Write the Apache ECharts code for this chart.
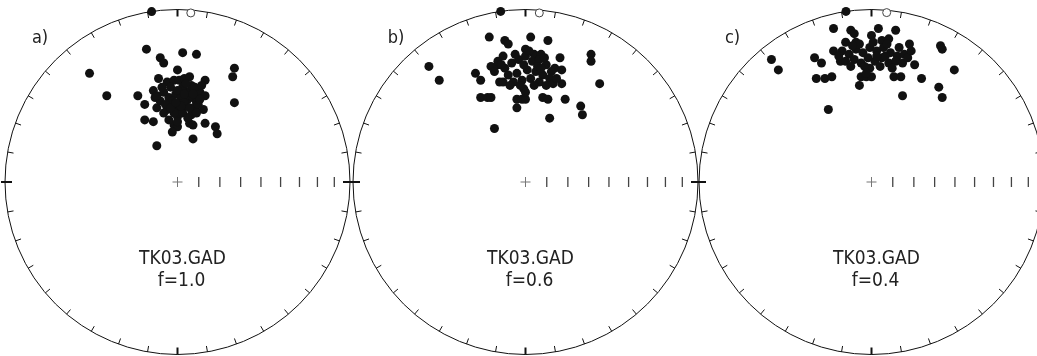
<!DOCTYPE html>
<html>
<head>
<meta charset="utf-8">
<script src="https://cdn.jsdelivr.net/npm/echarts@6/dist/echarts.min.js"></script>
<style>
  html, body { margin: 0; background: #fff; }
  #chart { width: 1037px; height: 356px; }
</style>
</head>
<body>
<div id="chart"></div>
<script>
// panel captions
const panelLabels = ['a)', 'b)', 'c)'];
const modelName = 'TK03.GAD';
const fLabels = ['f=1.0', 'f=0.6', 'f=0.4'];

// dip ticks along the east radius (equal-area net)
const dipTicks = [80, 70, 60, 50, 40, 30, 20, 10];

// site directions, projected x/y in the unit circle
const sitesA = [
  [-0.18, 0.77], [-0.10, 0.72], [-0.08, 0.69], [0.03, 0.75], [0.11, 0.74], [-0.51, 0.63], [-0.41, 0.50],
  [0.33, 0.66], [0.32, 0.61], [0.33, 0.46], [0.00, 0.65], [-0.11, 0.60], [-0.06, 0.58], [-0.02, 0.59],
  [0.01, 0.59], [0.04, 0.60], [0.07, 0.61], [0.16, 0.59], [-0.23, 0.50], [-0.14, 0.53], [-0.13, 0.49],
  [-0.08, 0.52], [-0.05, 0.49], [-0.01, 0.51], [0.02, 0.49], [0.06, 0.52], [0.06, 0.48], [0.09, 0.49],
  [0.13, 0.52], [0.16, 0.50], [-0.19, 0.45], [-0.12, 0.43], [-0.06, 0.42], [-0.02, 0.44], [0.01, 0.42],
  [0.05, 0.44], [0.10, 0.43], [0.15, 0.42], [-0.19, 0.36], [-0.14, 0.35], [0.00, 0.38], [-0.02, 0.33],
  [0.00, 0.32], [0.07, 0.34], [0.09, 0.33], [0.16, 0.34], [0.22, 0.32], [0.23, 0.28], [-0.03, 0.29],
  [0.09, 0.25], [-0.12, 0.21], [-0.04, 0.55], [0.03, 0.55], [0.08, 0.56], [-0.10, 0.47], [-0.03, 0.47],
  [0.04, 0.46], [0.11, 0.46], [-0.08, 0.40], [0.03, 0.40], [0.08, 0.39], [0.12, 0.45], [-0.05, 0.36],
  [0.06, 0.37], [0.00, 0.53], [-0.07, 0.45], [0.10, 0.55], [0.13, 0.48], [-0.12, 0.50], [0.02, 0.44],
  [0.07, 0.43], [-0.02, 0.40], [0.04, 0.51], [-0.04, 0.43], [0.11, 0.40], [0.14, 0.56], [-0.09, 0.55],
  [0.05, 0.57], [-0.01, 0.46], [0.09, 0.51], [0.00, 0.35]
];
const sitesB = [
  [-0.21, 0.84], [-0.12, 0.82], [-0.10, 0.80], [0.03, 0.84], [0.13, 0.82], [-0.56, 0.67], [-0.50, 0.59],
  [0.38, 0.74], [0.38, 0.70], [0.43, 0.57], [-0.29, 0.63], [-0.26, 0.59], [-0.15, 0.58], [-0.13, 0.73],
  [0.00, 0.77], [0.05, 0.74], [0.09, 0.74], [0.20, 0.72], [0.17, 0.66], [0.21, 0.65], [0.21, 0.57],
  [-0.20, 0.67], [-0.16, 0.68], [-0.26, 0.49], [-0.22, 0.49], [-0.20, 0.49], [-0.05, 0.48], [-0.02, 0.48],
  [0.00, 0.48], [-0.05, 0.43], [0.10, 0.49], [0.13, 0.48], [0.23, 0.48], [0.32, 0.44], [0.33, 0.39],
  [0.14, 0.37], [-0.18, 0.31], [-0.01, 0.54], [0.00, 0.52], [-0.16, 0.70], [-0.12, 0.66], [-0.08, 0.69],
  [-0.04, 0.71], [0.00, 0.73], [0.04, 0.70], [0.08, 0.71], [0.12, 0.68], [0.15, 0.64], [-0.18, 0.64],
  [-0.10, 0.62], [-0.05, 0.63], [0.01, 0.65], [0.06, 0.64], [0.10, 0.62], [0.14, 0.60], [-0.13, 0.58],
  [-0.07, 0.58], [-0.02, 0.59], [0.03, 0.60], [0.08, 0.58], [0.12, 0.56], [-0.09, 0.56], [0.05, 0.56],
  [-0.01, 0.68], [0.02, 0.76], [0.07, 0.67], [-0.14, 0.68], [0.16, 0.57], [0.11, 0.72], [-0.03, 0.56],
  [0.18, 0.60], [0.09, 0.66], [-0.06, 0.74]
];
const sitesC = [
  [-0.22, 0.89], [-0.12, 0.88], [-0.10, 0.86], [0.04, 0.89], [0.14, 0.88], [-0.58, 0.71], [-0.54, 0.65],
  [-0.33, 0.72], [-0.29, 0.69], [-0.32, 0.60], [-0.27, 0.60], [-0.23, 0.61], [-0.07, 0.56], [-0.06, 0.61],
  [-0.03, 0.61], [0.00, 0.61], [-0.01, 0.66], [0.13, 0.61], [0.17, 0.61], [0.29, 0.60], [0.39, 0.55],
  [0.41, 0.49], [0.18, 0.50], [-0.25, 0.42], [0.40, 0.79], [0.41, 0.77], [0.48, 0.65], [0.22, 0.80],
  [0.25, 0.68], [-0.15, 0.81], [-0.09, 0.81], [-0.22, 0.76], [-0.18, 0.70], [0.00, 0.85], [0.06, 0.82],
  [0.10, 0.83], [-0.17, 0.76], [-0.13, 0.74], [-0.09, 0.77], [-0.05, 0.75], [-0.01, 0.78], [0.03, 0.76],
  [0.07, 0.78], [0.11, 0.75], [0.15, 0.73], [0.19, 0.74], [-0.15, 0.70], [-0.10, 0.71], [-0.06, 0.69],
  [-0.02, 0.72], [0.02, 0.70], [0.06, 0.72], [0.10, 0.69], [0.14, 0.70], [0.18, 0.69], [-0.12, 0.67],
  [-0.04, 0.67], [0.05, 0.67], [0.12, 0.66], [0.21, 0.72], [-0.07, 0.80], [0.01, 0.81], [0.08, 0.73],
  [-0.11, 0.79], [0.16, 0.78], [0.03, 0.73], [-0.19, 0.73], [0.09, 0.80], [0.23, 0.76], [-0.03, 0.63]
];
const sitesAll = [sitesA, sitesB, sitesC];

// markers on the rim: filled and open
const solidMarks = [[-0.150, 0.988], [-0.144, 0.989], [-0.148, 0.989]];
const openMarks = [[0.077, 0.980], [0.080, 0.980], [0.088, 0.982]];

const chart = echarts.init(document.getElementById('chart'));

const centersX = [177.5, 525.5, 871.5];
const cy = 182;
const R = 172.5;
const fontFace = '"DejaVu Sans Condensed", "DejaVu Sans", sans-serif';

// equal-area radius for an inclination
const toEqualArea = inc => Math.SQRT2 * Math.sin((90 - inc) / 2 * Math.PI / 180);

const grid = [], xAxis = [], yAxis = [], polar = [], angleAxis = [], radiusAxis = [], series = [], graphic = [];

centersX.forEach((cx, i) => {
  grid.push({ left: cx - R, top: cy - R, width: 2 * R, height: 2 * R, outerBoundsMode: 'none' });
  xAxis.push({ type: 'value', gridIndex: i, min: -1, max: 1, show: false });
  yAxis.push({ type: 'value', gridIndex: i, min: -1, max: 1, show: false });

  // three polars: rim with 10° ticks, bold cardinal ticks, outside E/W ticks
  for (let k = 0; k < 3; k++) {
    polar.push({ center: [cx, cy], radius: R });
    radiusAxis.push({ polarIndex: 3 * i + k, type: 'value', min: 0, max: 1, show: false });
  }
  angleAxis.push({
    polarIndex: 3 * i, type: 'value', min: 0, max: 360, interval: 10, startAngle: 90, clockwise: true,
    axisLine: { lineStyle: { color: '#111', width: 1 } },
    axisTick: { inside: true, length: 6, lineStyle: { color: '#111', width: 1 } },
    axisLabel: { show: false }, splitLine: { show: false }
  });
  angleAxis.push({
    polarIndex: 3 * i + 1, type: 'value', min: 0, max: 360, interval: 90, startAngle: 90, clockwise: true,
    axisLine: { show: false },
    axisTick: { inside: true, length: 7, lineStyle: { color: '#111', width: 2 } },
    axisLabel: { show: false }, splitLine: { show: false }
  });
  angleAxis.push({
    polarIndex: 3 * i + 2, type: 'value', min: 90, max: 450, interval: 180, startAngle: 0, clockwise: true,
    axisLine: { show: false },
    axisTick: { inside: false, length: 4, lineStyle: { color: '#111', width: 2 } },
    axisLabel: { show: false }, splitLine: { show: false }
  });

  series.push({
    type: 'scatter', xAxisIndex: i, yAxisIndex: i, silent: true,
    data: dipTicks.map(d => [toEqualArea(d), 0]),
    symbol: 'rect', symbolSize: [1.3, 10], itemStyle: { color: '#444', opacity: 1 }
  });
  series.push({
    type: 'scatter', xAxisIndex: i, yAxisIndex: i, silent: true,
    data: [[0, 0]],
    symbol: 'path://M0,4.5h10v1h-10zM4.5,0h1v10h-1z', symbolSize: 10, itemStyle: { color: '#777', opacity: 1 }
  });
  series.push({
    type: 'scatter', xAxisIndex: i, yAxisIndex: i, silent: true,
    data: sitesAll[i], symbolSize: 9, itemStyle: { color: '#111', opacity: 1 }
  });
  series.push({
    type: 'scatter', xAxisIndex: i, yAxisIndex: i, silent: true,
    data: [solidMarks[i]], symbolSize: 9, itemStyle: { color: '#111', opacity: 1 }
  });
  series.push({
    type: 'scatter', xAxisIndex: i, yAxisIndex: i, silent: true,
    data: [openMarks[i]], symbolSize: 8,
    itemStyle: { color: '#fff', borderColor: '#444', borderWidth: 1, opacity: 1 }
  });

  graphic.push({
    type: 'text', x: [40, 396, 732.5][i], y: 38.5,
    style: { text: panelLabels[i], font: '18px ' + fontFace, fill: '#222', align: 'center', verticalAlign: 'middle' }
  });
  graphic.push({
    type: 'text', x: cx + 5, y: 259.5,
    style: { text: modelName, font: '19px ' + fontFace, fill: '#222', align: 'center', verticalAlign: 'middle' }
  });
  graphic.push({
    type: 'text', x: cx + 4, y: 281,
    style: { text: fLabels[i], font: '19px ' + fontFace, fill: '#222', align: 'center', verticalAlign: 'middle' }
  });
});

chart.setOption({
  animation: false,
  grid, xAxis, yAxis, polar, angleAxis, radiusAxis, series, graphic
});
</script>
</body>
</html>
